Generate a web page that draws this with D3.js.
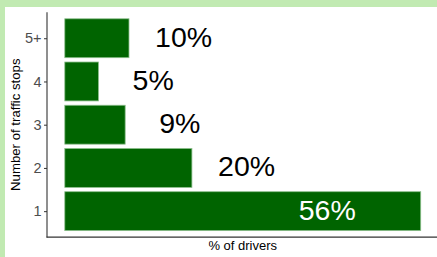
<!DOCTYPE html>
<html>
<head>
<meta charset="utf-8">
<script src="https://cdn.jsdelivr.net/npm/d3@7"></script>
<style>
html,body{margin:0;padding:0;background:#fff;}
svg{display:block;font-family:"Liberation Sans",Arial,sans-serif;}
</style>
</head>
<body>
<svg id="chart" width="437" height="257"></svg>
<script>
// ---- data ----
const categories = ["1", "2", "3", "4", "5+"];
const values = [56, 20, 9.5, 5.3, 10.1];
const labels = ["56%", "20%", "9%", "5%", "10%"];
const xTitle = "% of drivers";
const yTitle = "Number of traffic stops";

const W = 437, H = 257;
const svg = d3.select("#chart");

// background (light green border) and white panel
svg.append("rect").attr("x", 0).attr("y", 0).attr("width", W).attr("height", H).attr("fill", "#c1eab2");
svg.append("rect").attr("x", 5).attr("y", 7).attr("width", W).attr("height", H).attr("fill", "#ffffff");

const panel = {left: 47, right: 438.5, top: 12.3, bottom: 237.1};

const maxV = d3.max(values);
const exp = 0.05 * maxV;
const x = d3.scaleLinear().domain([0 - exp, maxV + exp]).range([panel.left, panel.right]);
const y = d3.scalePoint().domain(categories).range([panel.bottom, panel.top]).padding(0.6);
const bh = y.step() * 0.9;

const data = categories.map((c, i) => ({cat: c, v: values[i], label: labels[i]}));

// bars
svg.append("g").selectAll("rect").data(data).join("rect")
  .attr("x", x(0))
  .attr("y", d => y(d.cat) - bh / 2)
  .attr("width", d => x(d.v) - x(0))
  .attr("height", bh)
  .attr("fill", "#006400")
  .attr("stroke", "#8cbf8c")
  .attr("stroke-width", 0.8);

// value labels
const inside = d => d.v > 40;
svg.append("g").selectAll("text").data(data).join("text")
  .attr("x", d => x(inside(d) ? d.v - 14.7 : d.v + 8.6))
  .attr("y", d => y(d.cat))
  .attr("dy", "0.3em")
  .attr("text-anchor", "middle")
  .attr("font-size", 28.5)
  .attr("fill", d => inside(d) ? "#ffffff" : "#000000")
  .text(d => d.label);

// y axis
const yAxis = d3.axisLeft(y).tickSize(3).tickPadding(2.5);
const gy = svg.append("g").attr("transform", `translate(${panel.left},0)`).call(yAxis);
gy.select(".domain").remove();
gy.selectAll(".tick line").attr("stroke", "#333333").attr("stroke-width", 1);
gy.selectAll(".tick text").attr("font-size", 14.5).attr("fill", "#4d4d4d")
  .attr("font-family", "'Liberation Sans',Arial,sans-serif");

// axis lines
svg.append("line").attr("x1", panel.left).attr("x2", panel.left)
  .attr("y1", panel.top).attr("y2", panel.bottom + 0.5)
  .attr("stroke", "#333333").attr("stroke-width", 1.1);
svg.append("line").attr("x1", panel.left - 0.5).attr("x2", W)
  .attr("y1", panel.bottom).attr("y2", panel.bottom)
  .attr("stroke", "#333333").attr("stroke-width", 1.1);

// titles
svg.append("text")
  .attr("x", (panel.left + panel.right) / 2)
  .attr("y", 250)
  .attr("text-anchor", "middle")
  .attr("font-size", 13)
  .attr("fill", "#000")
  .text(xTitle);
svg.append("text")
  .attr("transform", `translate(19.5,${(panel.top + panel.bottom) / 2}) rotate(-90)`)
  .attr("text-anchor", "middle")
  .attr("font-size", 13.2)
  .attr("fill", "#000")
  .text(yTitle);
</script>
</body>
</html>
